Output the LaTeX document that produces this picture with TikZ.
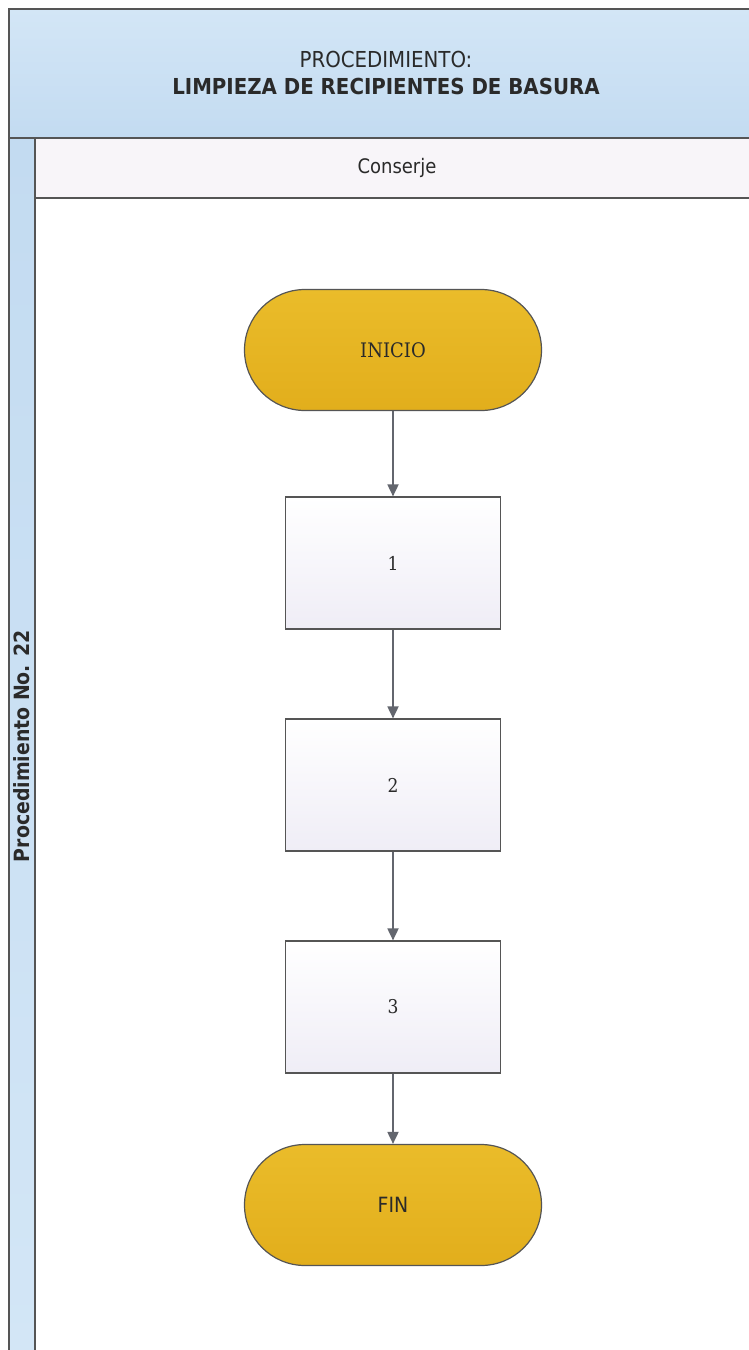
\documentclass[tikz,border=0pt]{standalone}
\usepackage{fontspec}
\setmainfont{DejaVu Sans Condensed}
\newfontfamily\slabfont{DejaVu Serif Condensed}
\usetikzlibrary{arrows.meta,shapes.misc}
\definecolor{hdrblue}{HTML}{D3E6F6}
\definecolor{hdrblueB}{HTML}{C3DBF1}
\definecolor{lanehead}{HTML}{F8F5F9}
\definecolor{termfill}{HTML}{EABC2A}
\definecolor{termfillB}{HTML}{E2AE1C}
\definecolor{boxfillB}{HTML}{EFEDF6}
\definecolor{edge}{HTML}{555555}
\definecolor{flowgray}{HTML}{63666E}
\definecolor{inktext}{HTML}{2A2A2A}
\tikzset{
  frameline/.style={draw=edge, line width=1.3pt},
  terminal/.style={rounded rectangle, draw=edge, line width=1.2pt,
    top color=termfill, bottom color=termfillB,
    minimum width=297pt, minimum height=121pt, inner sep=0pt,
    text=inktext, font=\fontsize{21}{24}\selectfont},
  stepbox/.style={rectangle, draw=edge, line width=1.2pt,
    top color=white, bottom color=boxfillB,
    minimum width=215pt, minimum height=132pt, inner sep=0pt,
    text=inktext, font=\slabfont\fontsize{19}{22}\selectfont},
  flow/.style={draw=flowgray, line width=1.8pt,
    -{Triangle[length=12pt,width=11pt]}}
}
\begin{document}
\begin{tikzpicture}[x=1pt,y=-1pt]
  \useasboundingbox (0,0) rectangle (748,1350);
  \fill[white] (0,0) rectangle (748,1350);
  % title band
  \path[top color=hdrblue, bottom color=hdrblueB, frameline] (9,9) -- (760,9) -- (760,138) -- (9,138) -- cycle;
  \node[text=inktext, align=center, font=\fontsize{22}{27}\selectfont] (title) at (386,73)
    {PROCEDIMIENTO:\\\textbf{LIMPIEZA DE RECIPIENTES DE BASURA}};
  % vertical procedure strip
  \path[top color=hdrblueB, bottom color=hdrblue, frameline] (9,138) -- (35,138) -- (35,1360) -- (9,1360) -- cycle;
  \node[rotate=90, text=inktext, font=\bfseries\fontsize{21}{24}\selectfont] (proc) at (22,746) {Procedimiento No. 22};
  % swimlane header
  \path[fill=lanehead, frameline] (35,138) -- (760,138) -- (760,198) -- (35,198) -- cycle;
  \node[text=inktext, font=\fontsize{20}{22}\selectfont] (lane) at (397,168) {Conserje};
  % flow
  \node[terminal, font=\slabfont\fontsize{20}{22}\selectfont] (inicio) at (393,350) {INICIO};
  \node[stepbox] (s1) at (393,563) {1};
  \node[stepbox] (s2) at (393,785) {2};
  \node[stepbox] (s3) at (393,1007) {3};
  \node[terminal] (fin) at (393,1205) {FIN};
  \draw[flow] (inicio) -- (s1);
  \draw[flow] (s1) -- (s2);
  \draw[flow] (s2) -- (s3);
  \draw[flow] (s3) -- (fin);
\end{tikzpicture}
\end{document}
